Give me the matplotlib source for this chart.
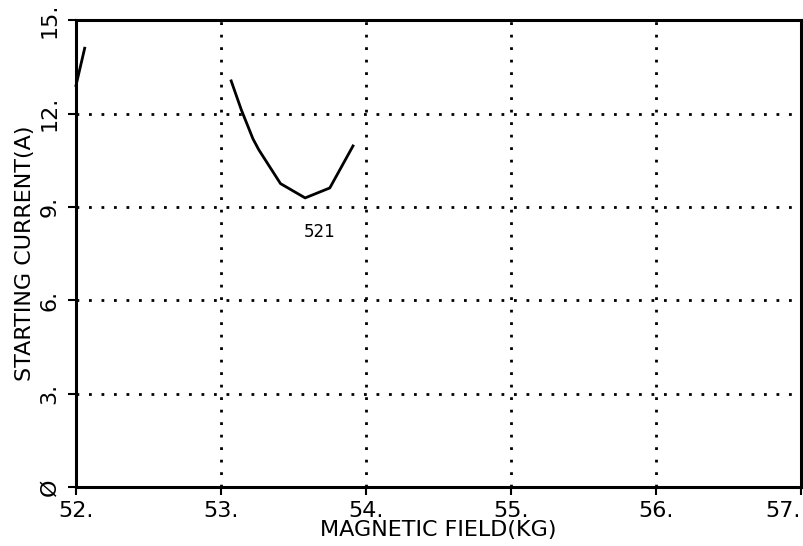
import matplotlib
matplotlib.use("Agg")
import matplotlib.pyplot as plt

# curve (field in kG, current in A)
field_521 = [53.07, 53.14, 53.22, 53.26, 53.41, 53.58, 53.75, 53.91]
current_521 = [13.05, 12.12, 11.19, 10.84, 9.75, 9.29, 9.61, 10.96]

field_edge = [52.0, 52.06]
current_edge = [12.9, 14.1]

x_ticks = [52, 53, 54, 55, 56, 57]
x_labels = ["52.", "53.", "54.", "55.", "56.", "57."]
y_ticks = [0, 3, 6, 9, 12, 15]
y_labels = ["Ø", "3.", "6.", "9.", "12.", "15."]

plt.rcParams['font.family'] = ['DejaVu Sans']

fig = plt.figure(figsize=(8.04, 5.46), dpi=100)
ax = fig.add_axes([0.0945, 0.108, 0.902, 0.855])

ax.plot(field_521, current_521, color='black', lw=2)
ax.plot(field_edge, current_edge, color='black', lw=2, clip_on=False)
ax.text(53.68, 8.2, "521", fontsize=12, ha='center', va='center')

ax.set_xlim(52, 57)
ax.set_ylim(0, 15)
ax.set_xticks(x_ticks)
ax.set_xticklabels(x_labels, fontsize=16)
ax.get_xticklabels()[-1].set_ha('right')
ax.set_yticks(y_ticks)
ax.set_yticklabels(y_labels, fontsize=16, rotation=90, va='center')
ax.tick_params(direction='out', length=6, width=1.5)
ax.tick_params(axis='x', pad=4)
ax.tick_params(axis='y', pad=6)

ax.grid(True, color='black', linestyle=(0, (1, 3.5)), linewidth=2)
for s in ax.spines.values():
    s.set_linewidth(2.2)

ax.set_xlabel("MAGNETIC FIELD(KG)", fontsize=16, labelpad=-1)
ax.set_ylabel("STARTING CURRENT(A)", fontsize=16)
ax.yaxis.set_label_coords(-0.056, 0.5)

fig.savefig("out.png", dpi=100)
